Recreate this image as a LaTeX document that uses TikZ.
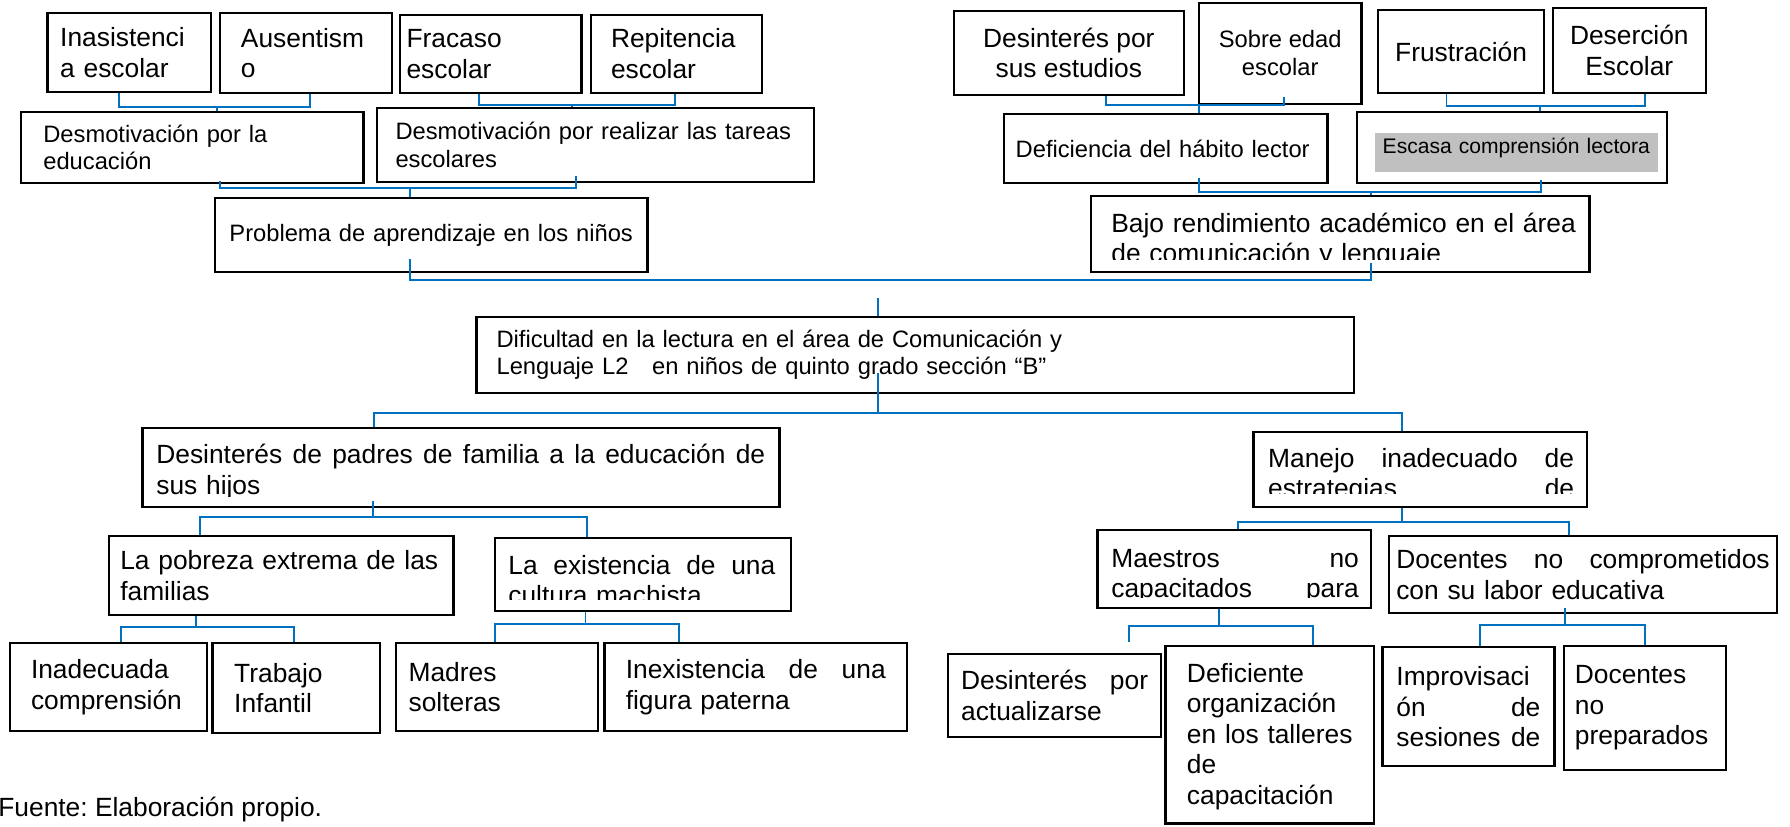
\documentclass[tikz,border=0pt]{standalone}
\usepackage{fontspec}
\setmainfont{Liberation Sans}
\usetikzlibrary{fit,positioning}
\definecolor{azul}{RGB}{0,112,192}
\definecolor{sombra}{RGB}{192,192,192}
\frenchspacing

\begin{document}
\begin{tikzpicture}[x=0.02cm,y=-0.02cm,
	caja/.style={draw,line width=1.3pt,inner sep=0pt,align=left},
	grande/.style={font=\fontsize{15}{17.4}\selectfont},
	mediana/.style={font=\fontsize{13.5}{15.6}\selectfont},
	texto/.style={inner sep=0pt,anchor=north west,align=left},
	linea/.style={draw=azul,line width=1.1pt},
	]
	\useasboundingbox (0,0) rectangle (1790,826);
	
	\node[caja,grande,minimum width=3.274cm,minimum height=1.568cm,text width=2.77cm] at (129.45,52.5) (inasist) {Inasistenci\\a escolar};
	\node[caja,grande,minimum width=3.442cm,minimum height=1.588cm,text width=2.6cm] at (305.95,53) (ausent) {Ausentism\\o};
	\node[caja,grande,minimum width=3.63cm,minimum height=1.554cm,text width=3.37cm] at (490.75,53.85) (fracaso) {Fracaso\\escolar};
	\node[caja,grande,minimum width=3.42cm,minimum height=1.554cm,text width=2.62cm] at (676.5,53.85) (repit) {Repitencia\\escolar};
	\node[caja,mediana,minimum width=6.844cm,minimum height=1.432cm,text width=5.96cm] at (192.3,147.5) (desmo1) {Desmotivación por la\\educación};
	\node[caja,mediana,minimum width=8.74cm,minimum height=1.468cm,text width=8cm] at (595.5,145) (desmo2) {Desmotivación por realizar las tareas\\escolares};
	\node[caja,mediana,minimum width=8.644cm,minimum height=1.468cm,text width=8.08cm] at (431.4,235) (problema) {Problema de aprendizaje en los niños};
	
	\node[caja,grande,minimum width=4.598cm,minimum height=1.68cm,align=center] at (1068.85,53) (desint) {Desinterés por\\sus estudios};
	\node[caja,font=\fontsize{13.5}{16.1}\selectfont,minimum width=3.248cm,minimum height=2.026cm,align=center] at (1280.2,53.35) (sobre) {Sobre edad\\escolar};
	\node[caja,grande,minimum width=3.326cm,minimum height=1.666cm,align=center] at (1461.05,51.65) (frustra) {Frustración};
	\node[caja,grande,minimum width=3.064cm,minimum height=1.688cm,align=center] at (1629.3,50.5) (desercion) {Deserción\\Escolar};
	\node[caja,mediana,minimum width=6.47cm,minimum height=1.38cm,text width=6cm] at (1165.65,148.8) (habito) {Deficiencia del hábito lector};
	\node[caja,fit={(1356.9,111.7) (1667.3,183.3)}] (escasa) {};
	\node[fill=sombra,inner sep=0pt,anchor=north west,minimum width=5.664cm,minimum height=0.788cm,text width=5.35cm,text depth=7.3pt,align=left,font=\fontsize{12}{14}\selectfont] at (1374.5,132.3) (escasa-txt) {Escasa comprensión lectora};
	\node[caja,fit={(1091.3,196) (1589.6,271.7)}] (bajo) {};
	\begin{scope}
		\clip (1092,197) rectangle (1589,259.5);
		\node[texto,grande,text width=9.4cm] at (1111,210.3) (bajo-txt) {\strut Bajo rendimiento académico en el área\\de comunicación y lenguaje};
	\end{scope}
	
	\node[caja,mediana,minimum width=17.55cm,minimum height=1.52cm,text width=16.75cm] at (915.25,354.7) (dificultad) {Dificultad en la lectura en el área de Comunicación y\\Lenguaje L2~~ en niños de quinto grado sección “B”};
	
	% rama izquierda
	\node[caja,fit={(142.4,428.3) (779.6,506.7)}] (padres) {};
	\begin{scope}
		\clip (143,429) rectangle (779,496.5);
		\node[texto,grande,text width=12.18cm] at (156,441.9) (padres-txt) {\strut Desinterés\hfill de\hfill padres\hfill de\hfill familia\hfill a\hfill la\hfill educación\hfill de\\sus hijos};
	\end{scope}
	\node[caja,grande,minimum width=6.89cm,minimum height=1.58cm,text width=6.44cm] at (281.25,575.5) (pobreza) {La pobreza extrema de las\\familias};
	\node[caja,fit={(494.8,537.7) (791,610.7)}] (cultura) {};
	\begin{scope}
		\clip (495,538) rectangle (790,599.5);
		\node[texto,grande,text width=5.34cm] at (508,552.6) (cultura-txt) {\strut La\hfill existencia\hfill de\hfill una\\cultura machista};
	\end{scope}
	\node[caja,grande,minimum width=3.928cm,minimum height=1.754cm,text width=3.1cm] at (108.5,687.15) (inadec) {Inadecuada\\comprensión};
	\node[caja,grande,minimum width=3.352cm,minimum height=1.788cm,text width=2.48cm] at (296.2,688) (trabajo) {Trabajo\\Infantil};
	\node[caja,grande,minimum width=4.044cm,minimum height=1.754cm,text width=3.54cm] at (497.1,687.15) (madres) {Madres\\solteras};
	\node[caja,grande,minimum width=6.05cm,minimum height=1.754cm,text width=5.2cm] at (755.75,687.15) (inexist) {Inexistencia\hfill de\hfill una\\figura paterna};
	
	% rama derecha
	\node[caja,fit={(1253.6,431.7) (1586.7,506.7)}] (manejo) {};
	\begin{scope}
		\clip (1254,432) rectangle (1586,493.5);
		\node[texto,grande,text width=6.12cm] at (1267.8,445.3) (manejo-txt) {\strut Manejo\hfill inadecuado\hfill de\\estrategias\hfill de};
	\end{scope}
	\node[caja,fit={(1097.5,530) (1371,607.7)}] (maestros) {};
	\begin{scope}
		\clip (1098,531) rectangle (1370,597);
		\node[texto,grande,text width=4.95cm] at (1111,545.3) (maestros-txt) {\strut Maestros\hfill no\\capacitados\hfill para};
	\end{scope}
	\node[caja,grande,minimum width=7.752cm,minimum height=1.534cm,text width=7.47cm] at (1583,574.35) (compro) {Docentes\hfill no\hfill comprometidos\\con su labor educativa};
	\node[caja,grande,minimum width=4.256cm,minimum height=1.648cm,text width=3.74cm] at (1054.6,695.5) (actual) {Desinterés\hfill por\\actualizarse};
	\node[caja,fit={(1165.6,645.7) (1373.9,823.5)}] (talleres) {};
	\node[texto,grande,text width=3.7cm] at (1186.6,660.3) (talleres-txt) {\strut Deficiente\\organización\\en los talleres\\de\\capacitación};
	\node[caja,grande,minimum width=3.44cm,minimum height=2.374cm,text width=2.88cm] at (1468.4,706.65) (improv) {Improvisaci\\ón\hfill de\\sesiones\hfill de};
	\node[caja,grande,minimum width=3.236cm,minimum height=2.48cm,text width=2.8cm] at (1644.9,708) (prepar) {Docentes\\no\\preparados};
	
	\node[grande,inner sep=0pt,anchor=base west] at (-2,816) (fuente) {Fuente: Elaboración propio.};
	
	% conectores
	\coordinate (j1) at (217,107.3);
	\draw[linea] (119.4,0 |- inasist.south) |- (j1) -| (310,0 |- ausent.south);
	\draw[linea] (j1) -- (j1 |- desmo1.north);
	\coordinate (j2) at (572.3,105);
	\draw[linea] (479.3,0 |- fracaso.south) |- (j2) -| (675,0 |- repit.south);
	\draw[linea] (j2) -- (j2 |- desmo2.north);
	\coordinate (j3) at (410.4,188.3);
	\draw[linea] ([yshift=0.07cm]219.9,0 |- desmo1.south) |- (j3) -| ([yshift=0.13cm]575.8,0 |- desmo2.south);
	\draw[linea] (j3) -- (j3 |- problema.north);
	
	\coordinate (j13) at (1199,105);
	\draw[linea] (1106,0 |- desint.south) |- (j13) -| ([yshift=0.16cm]1284.2,0 |- sobre.south);
	\draw[linea] (j13) -- (j13 |- habito.north);
	\coordinate (j14) at (1539.6,106);
	\draw[linea] (1446.5,0 |- frustra.south) |- (j14) -| (1644.6,0 |- desercion.south);
	\draw[linea] (j14) -- (j14 |- escasa.north);
	\coordinate (j15) at (1371,191.7);
	\draw[linea] ([yshift=0.13cm]1199,0 |- habito.south) |- (j15) -| ([yshift=0.09cm]1541.3,0 |- escasa.south);
	\draw[linea] (j15) -- (j15 |- bajo.north);
	
	\coordinate (eje) at (878.3,280);
	\draw[linea] ([yshift=0.27cm]410.4,0 |- problema.south) |- (eje) -| ([yshift=0.2cm]1371,0 |- bajo.south);
	\coordinate (punta) at (878.3,298);
	\draw[linea] (punta) -- (punta |- dificultad.north);
	
	\coordinate (j6) at (878.3,412.7);
	\draw[linea] ([yshift=0.41cm]j6 |- dificultad.south) -- (j6);
	\draw[linea] (374.3,0 |- padres.north) |- (j6) -| (1402.3,0 |- manejo.north);
	\coordinate (j7) at (373,516.7);
	\draw[linea] ([yshift=0.13cm]j7 |- padres.south) -- (j7);
	\draw[linea] (199.8,0 |- pobreza.north) |- (j7) -| (586.7,0 |- cultura.north);
	\coordinate (j8) at (196.3,626.7);
	\draw[linea] (j8 |- pobreza.south) -- (j8);
	\draw[linea] (120.6,0 |- inadec.north) |- (j8) -| (294,0 |- trabajo.north);
	\coordinate (j9) at (585.5,624);
	\draw[linea] (j9 |- cultura.south) -- (j9);
	\draw[linea] (495.4,0 |- madres.north) |- (j9) -| (679,0 |- inexist.north);
	
	\coordinate (j10) at (1402.3,521.7);
	\draw[linea] (j10 |- manejo.south) -- (j10);
	\draw[linea] (1237.7,0 |- maestros.north) |- (j10) -| (1568.6,0 |- compro.north);
	\coordinate (j11) at (1219,625.7);
	\draw[linea] (j11 |- maestros.south) -- (j11);
	\draw[linea] ([yshift=0.22cm]1128.7,0 |- actual.north) |- (j11) -| (1312.6,0 |- talleres.north);
	\coordinate (j12) at (1565.2,625);
	\draw[linea] ([yshift=0.12cm]j12 |- compro.south) -- (j12);
	\draw[linea] (1480,0 |- improv.north) |- (j12) -| (1644.6,0 |- prepar.north);
\end{tikzpicture}
\end{document}
